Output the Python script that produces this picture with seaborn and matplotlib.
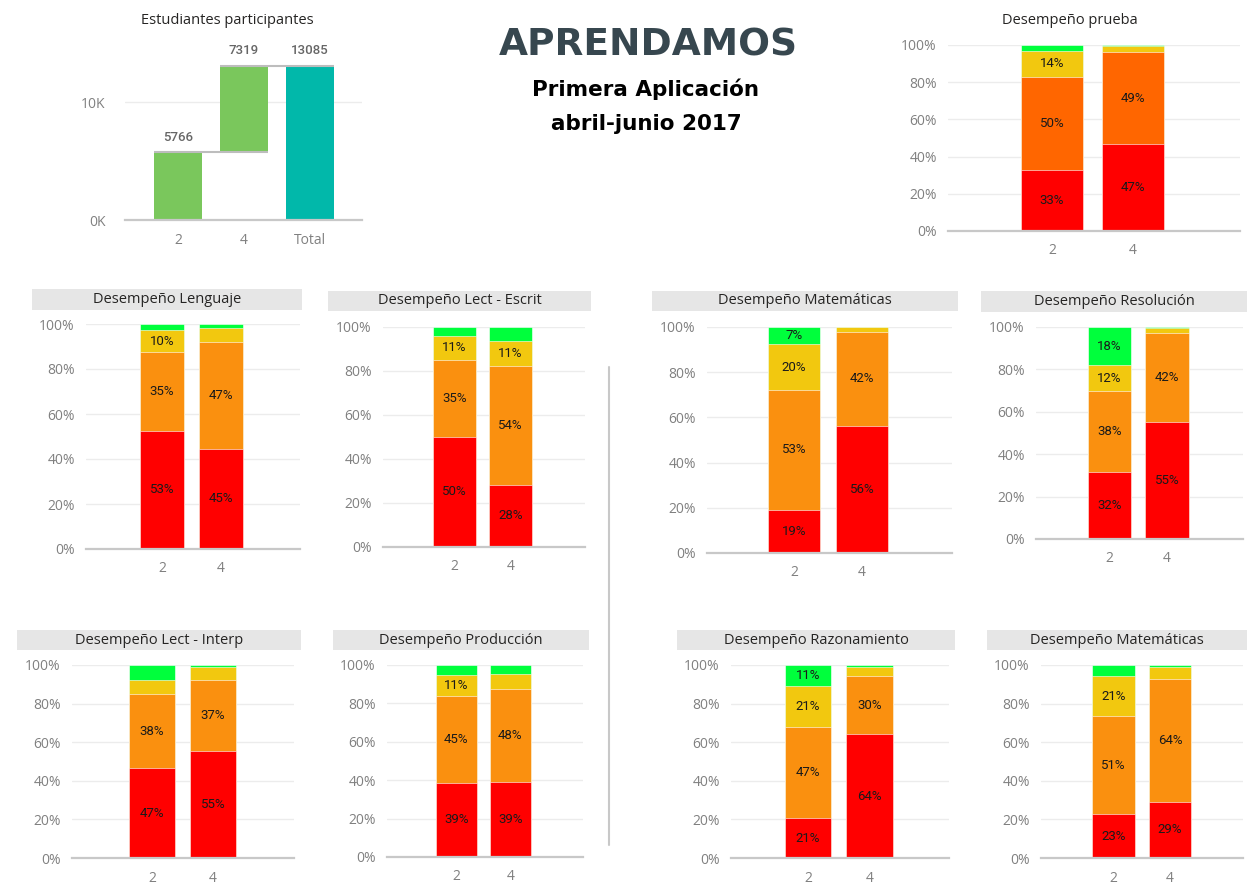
import numpy as np
import pandas as pd
import matplotlib
matplotlib.use("Agg")
import matplotlib.pyplot as plt
import seaborn as sns
from matplotlib.patches import Rectangle
from matplotlib.lines import Line2D

sns.set_theme(style="white")
plt.rcParams["font.family"] = ["Open Sans", "DejaVu Sans"]

W, H = 1247, 884

# Data
grades = ["2", "4"]
wf_labels = ["2", "4", "Total"]
participants = [5766, 7319]

# segments: rojo, naranja, amarillo, verde (percent)
prueba_2 = [33.0, 50.0, 14.0, 3.0]
prueba_4 = [47.0, 49.0, 3.6, 0.4]
lenguaje_2 = [52.6, 34.8, 9.9, 2.7]
lenguaje_4 = [44.6, 47.2, 6.6, 1.6]
escrit_2 = [50.2, 34.8, 11.0, 4.0]
escrit_4 = [28.4, 54.0, 11.2, 6.4]
mate_2 = [19.2, 52.8, 20.4, 7.4]
mate_4 = [56.2, 41.8, 1.8, 0.2]
resol_2 = [31.8, 37.8, 12.4, 18.0]
resol_4 = [55.0, 42.4, 2.2, 0.4]
interp_2 = [46.6, 38.4, 7.4, 7.6]
interp_4 = [55.2, 37.2, 6.6, 1.0]
produc_2 = [38.6, 45.0, 11.0, 5.4]
produc_4 = [39.2, 48.4, 7.6, 4.8]
razon_2 = [20.6, 47.2, 21.2, 11.0]
razon_4 = [64.0, 30.4, 4.6, 1.0]
mate2_2 = [22.6, 50.8, 21.0, 5.6]
mate2_4 = [29.2, 63.8, 6.0, 1.0]

level_colors = ["#FF0000", "#FA900F", "#F2C80F", "#00FF3C"]
prueba_colors = ["#FF0000", "#FF6600", "#F2C80F", "#00FF3C"]

TICK = "#808080"
BASE = "#c8c8c8"
GRID = "#ececec"


def px_axes(fig, x0, y0, x1, y1):
    return fig.add_axes([x0 / W, 1 - y1 / H, (x1 - x0) / W, (y1 - y0) / H])


def style_axes(ax):
    for s in ["top", "right", "left"]:
        ax.spines[s].set_visible(False)
    ax.spines["bottom"].set_color(BASE)
    ax.spines["bottom"].set_linewidth(1.6)
    ax.yaxis.grid(True, color=GRID, linewidth=1)
    ax.set_axisbelow(True)
    ax.tick_params(axis="both", length=0, labelcolor=TICK, labelsize=10)
    ax.tick_params(axis="y", pad=8)
    ax.tick_params(axis="x", pad=9)
    ax.set_xlabel("")
    ax.set_ylabel("")


def stacked_panel(fig, box, centers, g2, g4, colors, label_min=9.5):
    ax = px_axes(fig, *box)
    df = pd.DataFrame([g2, g4], index=grades)
    cum = df.cumsum(axis=1)
    for j in reversed(range(df.shape[1])):
        sns.barplot(x=grades, y=cum[j].values, color=colors[j], width=0.76,
                    saturation=1, edgecolor="white", linewidth=0.4, ax=ax)
    for i, g in enumerate(grades):
        for j in range(df.shape[1]):
            v = df.loc[g, j]
            if v >= label_min:
                ax.text(i, cum.loc[g, j] - v / 2, f"{v:.0f}%", ha="center",
                        va="center", fontsize=9.5, color="#1a1a1a",
                        family=["Roboto", "DejaVu Sans"])
    sp = centers[1] - centers[0]
    ax.set_xlim((box[0] - centers[0]) / sp, 1 + (box[2] - centers[1]) / sp)
    ax.set_ylim(0, 100)
    ax.set_yticks(range(0, 101, 20))
    ax.set_yticklabels([f"{t}%" for t in range(0, 101, 20)])
    style_axes(ax)
    return ax


def header(fig, box, title):
    x0, y0, x1, y1 = box
    fig.patches.append(Rectangle((x0 / W, 1 - y1 / H), (x1 - x0) / W, (y1 - y0) / H,
                                 transform=fig.transFigure, facecolor="#e6e6e6",
                                 edgecolor="none"))
    fig.text((x0 + x1) / 2 / W, 1 - (y0 + y1) / 2 / H, title, ha="center",
             va="center", fontsize=10.5, color="#252423")


fig = plt.figure(figsize=(W / 100, H / 100), dpi=100)

# Waterfall: Estudiantes participantes
ax = px_axes(fig, 125, 43, 362, 220)
ends = np.cumsum(participants)
total = ends[-1]
heights = participants + [total]
bottoms = [0] + list(ends[:-1]) + [0]
sns.barplot(x=wf_labels, y=heights, bottom=bottoms, width=0.73,
            color="#7AC75C", saturation=1, ax=ax)
for p, c in zip(ax.patches, ["#7AC75C", "#7AC75C", "#01B8AA"]):
    p.set_facecolor(c)
    p.set_edgecolor("none")
tops = list(ends) + [total]
for i, (t, h) in enumerate(zip(tops, heights)):
    ax.text(i, t + 700, f"{h}", ha="center", va="bottom", fontsize=9.5,
            color="#666666", family=["Roboto", "DejaVu Sans"], fontweight="medium")
for i in range(len(ends)):
    ax.hlines(ends[i], i - 0.365, i + 1 + 0.365, color="#bdbdbd", lw=1.5, zorder=4)
ax.set_xlim(-0.8, 2.79)
ax.set_ylim(0, 15000)
ax.set_yticks([0, 10000])
ax.set_yticklabels(["0K", "10K"])
style_axes(ax)
ax.tick_params(axis="y", pad=14)
fig.text(227 / W, 1 - 20 / H, "Estudiantes participantes", ha="center",
         va="center", fontsize=10.5, color="#252423")

# Title block
fig.text(648 / W, 1 - 45 / H, "APRENDAMOS", ha="center", va="center",
         fontsize=27, fontweight="bold", color="#37474F", family=["DejaVu Sans"])
fig.text(646 / W, 1 - 89 / H, "Primera Aplicación", ha="center", va="center",
         fontsize=15.5, fontweight="bold", color="black", family=["DejaVu Sans"])
fig.text(646 / W, 1 - 124 / H, "abril-junio 2017", ha="center", va="center",
         fontsize=15.5, fontweight="bold", color="black", family=["DejaVu Sans"])

# Desempeño prueba
stacked_panel(fig, (948, 45, 1240, 231), (1052, 1133), prueba_2, prueba_4, prueba_colors)
fig.text(1070 / W, 1 - 20 / H, "Desempeño prueba", ha="center", va="center",
         fontsize=10.5, color="#252423")

# Second row
header(fig, (32, 289, 302, 310), "Desempeño Lenguaje")
stacked_panel(fig, (86, 324, 300, 549), (162, 221), lenguaje_2, lenguaje_4, level_colors)

header(fig, (328, 291, 591, 311), "Desempeño Lect - Escrit")
stacked_panel(fig, (383, 327, 585, 547), (454.5, 510.5), escrit_2, escrit_4, level_colors)

header(fig, (652, 291, 958, 311), "Desempeño Matemáticas")
stacked_panel(fig, (707, 327, 952, 553), (794, 862), mate_2, mate_4, level_colors, label_min=7)

header(fig, (981, 291, 1247, 312), "Desempeño Resolución")
stacked_panel(fig, (1036, 327, 1243, 539), (1109.5, 1167), resol_2, resol_4, level_colors)

# Third row
header(fig, (17, 630, 301, 650), "Desempeño Lect - Interp")
stacked_panel(fig, (72, 665, 294, 858), (152, 213), interp_2, interp_4, level_colors)

header(fig, (333, 630, 589, 650), "Desempeño Producción")
stacked_panel(fig, (387, 665, 583, 857), (456.5, 510.5), produc_2, produc_4, level_colors)

header(fig, (677, 630, 955, 650), "Desempeño Razonamiento")
stacked_panel(fig, (731, 665, 949, 858), (808, 869.5), razon_2, razon_4, level_colors)

header(fig, (987, 630, 1247, 650), "Desempeño Matemáticas")
stacked_panel(fig, (1041, 665, 1243, 858), (1113.5, 1170), mate2_2, mate2_4, level_colors)

# separator
fig.add_artist(Line2D([609 / W, 609 / W], [1 - 367 / H, 1 - 845 / H],
                      color=BASE, lw=1.5, transform=fig.transFigure))

fig.savefig("out.png", dpi=100, facecolor="white")
